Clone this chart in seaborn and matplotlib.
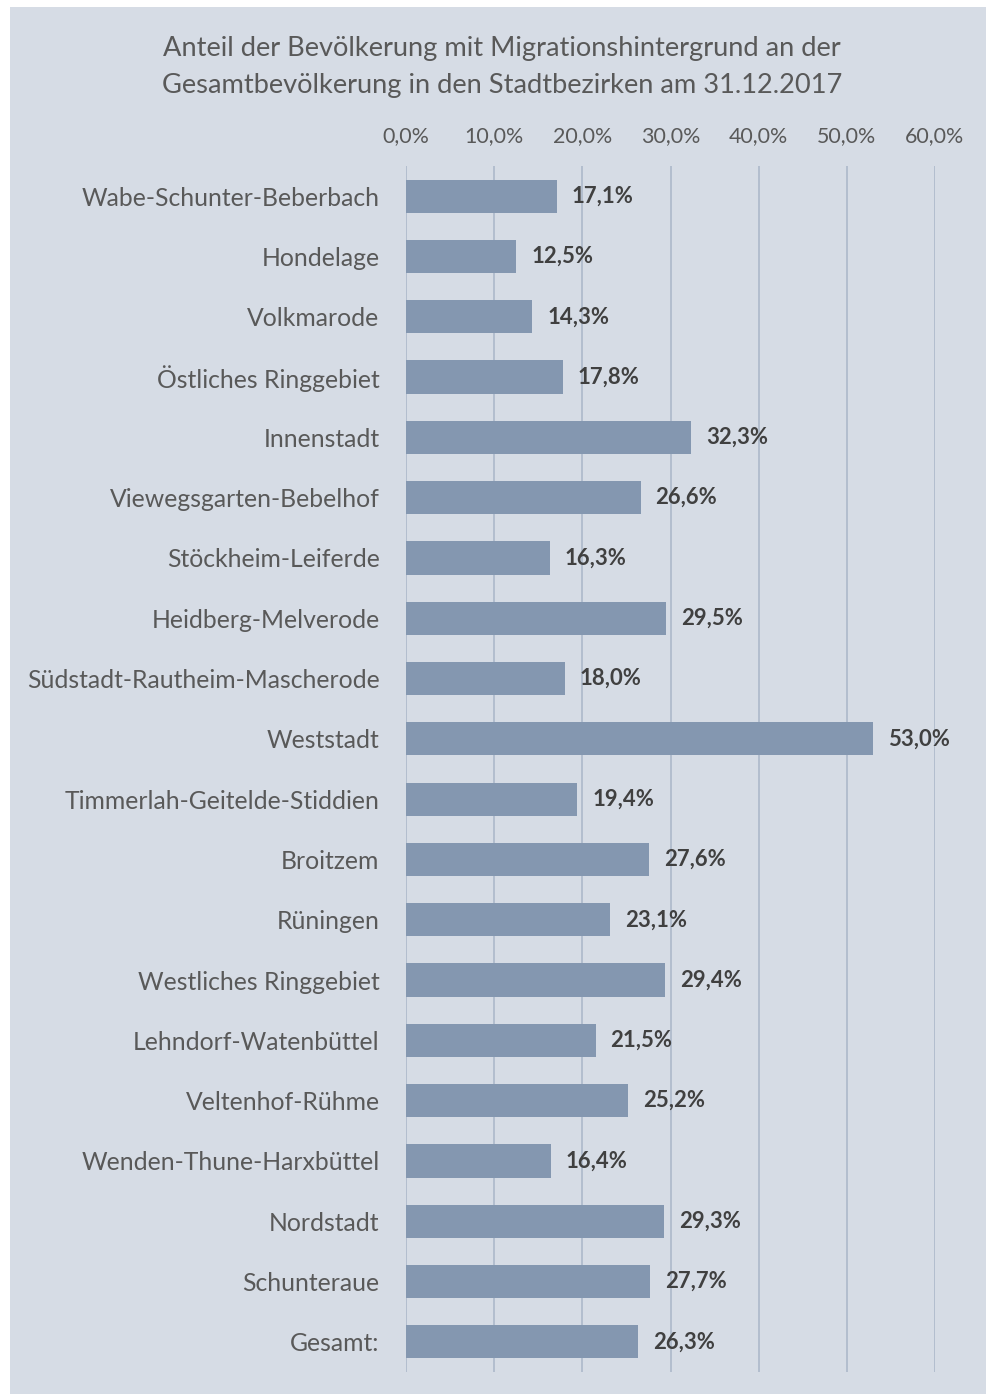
import pandas as pd
import numpy as np
import matplotlib.pyplot as plt
from matplotlib.patches import Rectangle
from matplotlib.ticker import FuncFormatter
import seaborn as sns

bezirke = ['Wabe-Schunter-Beberbach', 'Hondelage', 'Volkmarode', 'Östliches Ringgebiet',
           'Innenstadt', 'Viewegsgarten-Bebelhof', 'Stöckheim-Leiferde', 'Heidberg-Melverode',
           'Südstadt-Rautheim-Mascherode', 'Weststadt', 'Timmerlah-Geitelde-Stiddien',
           'Broitzem', 'Rüningen', 'Westliches Ringgebiet', 'Lehndorf-Watenbüttel',
           'Veltenhof-Rühme', 'Wenden-Thune-Harxbüttel', 'Nordstadt', 'Schunteraue', 'Gesamt:']
anteil = [17.1, 12.5, 14.3, 17.8, 32.3, 26.6, 16.3, 29.5, 18.0, 53.0,
          19.4, 27.6, 23.1, 29.4, 21.5, 25.2, 16.4, 29.3, 27.7, 26.3]
x_ticks = [0, 10, 20, 30, 40, 50, 60]

df = pd.DataFrame({'Bezirk': bezirke, 'Anteil': anteil})

bg = '#D6DCE5'
bar_col = '#8497B0'
grid_col = '#ADB9CA'
txt_col = '#595959'

sns.set_style('white')
plt.rcParams['font.family'] = ['Lato', 'DejaVu Sans']

fig = plt.figure(figsize=(9.86, 13.94), dpi=100)
fig.patch.set_facecolor('white')
# hellblauer Hintergrund wie im Excel-Diagramm
fig.add_artist(Rectangle((10 / 986, 0), 1 - 10 / 986, 1 - 7 / 1394,
                         transform=fig.transFigure, facecolor=bg, edgecolor='none', zorder=0))

ax = fig.add_axes([406 / 986, 22 / 1394, 529 / 986, 1206 / 1394])
ax.set_facecolor('none')

sns.barplot(data=df, x='Anteil', y='Bezirk', color=bar_col, saturation=1, width=0.55,
            linewidth=0, ax=ax, zorder=3)

ax.set_xlim(0, 60)
ax.set_xticks(x_ticks)
ax.xaxis.set_major_formatter(FuncFormatter(lambda v, p: f'{v:.1f}%'.replace('.', ',')))
ax.xaxis.tick_top()
ax.tick_params(axis='x', length=0, pad=14, labelsize=15.4, labelcolor=txt_col)
ax.tick_params(axis='y', length=0, pad=19, labelsize=17.8, labelcolor=txt_col)
ax.set_xlabel('')
ax.set_ylabel('')
ax.grid(axis='x', color=grid_col, linewidth=1.2, zorder=0)
ax.set_axisbelow(True)
for s in ax.spines.values():
    s.set_visible(False)

# Werte an den Balken
for i, v in enumerate(anteil):
    ax.text(v + 1.7, i, f'{v:.1f}%'.replace('.', ','), va='center', ha='left',
            fontsize=15.9, fontweight='bold', color='#404040', zorder=4)

fig.text(502 / 986, 1 - 67 / 1394,
         'Anteil der Bevölkerung mit Migrationshintergrund an der\nGesamtbevölkerung in den Stadtbezirken am 31.12.2017',
         ha='center', va='center', fontsize=19.6, color=txt_col, linespacing=1.6)

fig.savefig('out.png', dpi=100, facecolor='white')
